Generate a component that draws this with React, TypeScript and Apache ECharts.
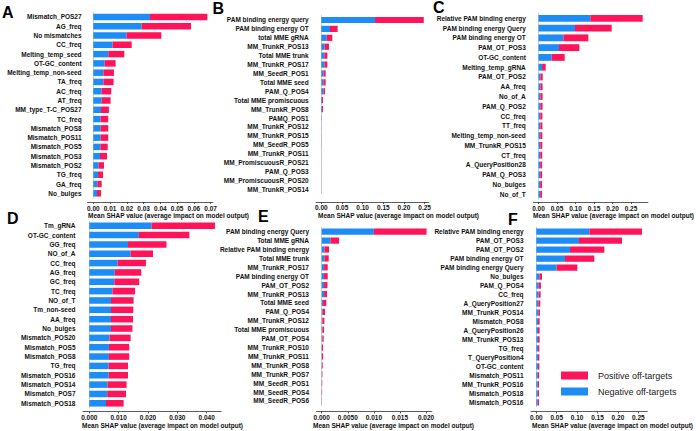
import React, { useEffect, useRef } from "react";
import * as echarts from "echarts";

// ---------- Data ----------
const A_LABELS = ["Mismatch_POS27", "AG_freq", "No mismatches", "CC_freq", "Melting_temp_seed", "OT-GC_content", "Melting_temp_non-seed", "TA_freq", "AC_freq", "AT_freq", "MM_type_T-C_POS27", "TC_freq", "Mismatch_POS8", "Mismatch_POS11", "Mismatch_POS5", "Mismatch_POS3", "Mismatch_POS2", "TG_freq", "GA_freq", "No_bulges"];
const A_NEG = [0.0338, 0.0288, 0.0199, 0.0115, 0.0089, 0.0068, 0.006, 0.006, 0.005, 0.005, 0.0046, 0.0044, 0.0044, 0.0044, 0.0042, 0.004, 0.0032, 0.0028, 0.0024, 0.0022];
const A_POS = [0.0342, 0.0295, 0.0207, 0.0114, 0.0096, 0.0065, 0.0063, 0.0061, 0.0057, 0.0053, 0.0047, 0.0045, 0.0045, 0.0045, 0.0044, 0.0042, 0.0032, 0.003, 0.0026, 0.0024];

const B_LABELS = ["PAM binding energy query", "PAM binding energy OT", "total MME gRNA", "MM_TrunkR_POS13", "Total MME trunk", "MM_TrunkR_POS17", "MM_SeedR_POS1", "Total MME seed", "PAM_Q_POS4", "Total MME promiscuous", "MM_TrunkR_POS8", "PAMQ_POS1", "MM_TrunkR_POS12", "MM_TrunkR_POS15", "MM_SeedR_POS5", "MM_TrunkR_POS11", "MM_PromiscuousR_POS21", "PAM_Q_POS3", "MM_PromiscuousR_POS20", "MM_TrunkR_POS14"];
const B_NEG = [0.13, 0.021, 0.013, 0.008, 0.0073, 0.0073, 0.005, 0.005, 0.005, 0.0016, 0.0016, 0.0003, 0.0002, 0.0002, 0.0002, 0.0001, 0.0001, 0.0001, 0.0001, 0.0001];
const B_POS = [0.118, 0.0185, 0.0136, 0.0105, 0.0072, 0.0072, 0.0055, 0.0055, 0.004, 0.0024, 0.0024, 0.0003, 0.0002, 0.0002, 0.0002, 0.0001, 0.0001, 0.0001, 0.0001, 0.0001];

const C_LABELS = ["Relative PAM binding energy", "PAM binding energy Query", "PAM binding energy OT", "PAM_OT_POS3", "OT-GC_content", "Melting_temp_gRNA", "PAM_OT_POS2", "AA_freq", "No_of_A", "PAM_Q_POS2", "CC_freq", "TT_freq", "Melting_temp_non-seed", "MM_TrunkR_POS15", "CT_freq", "A_QueryPosition28", "PAM_Q_POS3", "No_bulges", "No_of_T"];
const C_NEG = [0.14, 0.0986, 0.0671, 0.0554, 0.0356, 0.0095, 0.005, 0.005, 0.005, 0.005, 0.0048, 0.0048, 0.0047, 0.0047, 0.0046, 0.0045, 0.0045, 0.0044, 0.0044];
const C_POS = [0.1415, 0.0991, 0.0676, 0.055, 0.0351, 0.0099, 0.0063, 0.006, 0.006, 0.006, 0.0057, 0.0057, 0.0056, 0.0055, 0.0054, 0.0053, 0.0052, 0.0052, 0.0051];

const D_LABELS = ["Tm_gRNA", "OT-GC_content", "GG_freq", "NO_of_A", "CC_freq", "AG_freq", "GC_freq", "TC_freq", "NO_of_T", "Tm_non-seed", "AA_freq", "No_bulges", "Mismatch_POS20", "Mismatch_POS5", "Mismatch_POS8", "TG_freq", "Mismatch_POS16", "Mismatch_POS14", "Mismatch_POS7", "Mismatch_POS18"];
const D_NEG = [0.0212, 0.0169, 0.0132, 0.0141, 0.0097, 0.0087, 0.0085, 0.0079, 0.0074, 0.0074, 0.0074, 0.0074, 0.0069, 0.0067, 0.0067, 0.0066, 0.0066, 0.0062, 0.0061, 0.0057];
const D_POS = [0.0216, 0.0172, 0.0131, 0.0076, 0.0096, 0.009, 0.0085, 0.0077, 0.0077, 0.0076, 0.0075, 0.0073, 0.0072, 0.0069, 0.0069, 0.0066, 0.0066, 0.0065, 0.0064, 0.006];

const E_LABELS = ["PAM binding energy Query", "Total MME gRNA", "Relative PAM binding energy", "Total MME trunk", "MM_TrunkR_POS17", "PAM binding energy OT", "PAM_OT_POS2", "MM_TrunkR_POS13", "Total MME seed", "PAM_Q_POS4", "MM_TrunkR_POS12", "Total MME promiscuous", "PAM_OT_POS4", "MM_TrunkR_POS10", "MM_TrunkR_POS11", "MM_TrunkR_POS8", "MM_TrunkR_POS7", "MM_SeedR_POS1", "MM_SeedR_POS4", "MM_SeedR_POS6"];
const E_NEG = [0.01, 0.00166, 0.00051, 0.00051, 0.00045, 0.00045, 0.00045, 0.00045, 0.00026, 0.00019, 0.00013, 0.00013, 0.00013, 0.00006, 0.00006, 0.00006, 0.00003, 0.00003, 0.00003, 0.00003];
const E_POS = [0.0101, 0.00166, 0.00089, 0.00083, 0.0007, 0.0007, 0.00064, 0.00057, 0.00063, 0.00045, 0.00038, 0.00032, 0.00025, 0.0002, 0.0002, 0.00013, 0.0001, 0.00007, 0.00005, 0.00001];

const F_LABELS = ["Relative PAM binding energy", "PAM_OT_POS3", "PAM_OT_POS2", "PAM binding energy OT", "PAM binding energy Query", "No_bulges", "PAM_Q_POS4", "CC_freq", "A_QueryPosition27", "MM_TrunkR_POS14", "Mismatch_POS8", "A_QueryPosition26", "MM_TrunkR_POS13", "TG_freq", "T_QueryPosition4", "OT-GC_content", "Mismatch_POS11", "MM_TrunkR_POS16", "Mismatch_POS18", "Mismatch_POS16"];
const F_NEG = [0.13, 0.1046, 0.0825, 0.0703, 0.0498, 0.0074, 0.0057, 0.0057, 0.0049, 0.0049, 0.0041, 0.0041, 0.0041, 0.0041, 0.0041, 0.0041, 0.0037, 0.0037, 0.0037, 0.0035];
const F_POS = [0.129, 0.1054, 0.0842, 0.0719, 0.0507, 0.0065, 0.0057, 0.0049, 0.0049, 0.0041, 0.0041, 0.0041, 0.0041, 0.0033, 0.0033, 0.0033, 0.0032, 0.003, 0.003, 0.003];

const A_TICKS = [0, 0.01, 0.02, 0.03, 0.04, 0.05, 0.06, 0.07];
const A_TICK_LABELS = ["0.00", "0.01", "0.02", "0.03", "0.04", "0.05", "0.06", "0.07"];
const BCF_TICKS = [0, 0.05, 0.1, 0.15, 0.2, 0.25];
const BCF_TICK_LABELS = ["0.00", "0.05", "0.10", "0.15", "0.20", "0.25"];
const D_TICKS = [0, 0.01, 0.02, 0.03, 0.04];
const D_TICK_LABELS = ["0.000", "0.010", "0.020", "0.030", "0.040"];
const E_TICKS = [0, 0.005, 0.01, 0.015, 0.02];
const E_TICK_LABELS = ["0.000", "0.0050", "0.010", "0.015", "0.020"];

const PANEL_LETTERS = ["A", "B", "C", "D", "E", "F"];
const X_TITLE = "Mean SHAP value (average impact on model output)";
const POS_NAME = "Positive off-targets";
const NEG_NAME = "Negative off-targets";

// ---------- Styling / layout ----------
const BLUE = "#1e8cf5";
const RED = "#ff145a";
const FONT = "'Liberation Sans', Arial, sans-serif";

const PANELS = [
  { labels: A_LABELS, neg: A_NEG, pos: A_POS, ticks: A_TICKS, tickLabels: A_TICK_LABELS },
  { labels: B_LABELS, neg: B_NEG, pos: B_POS, ticks: BCF_TICKS, tickLabels: BCF_TICK_LABELS },
  { labels: C_LABELS, neg: C_NEG, pos: C_POS, ticks: BCF_TICKS, tickLabels: BCF_TICK_LABELS },
  { labels: D_LABELS, neg: D_NEG, pos: D_POS, ticks: D_TICKS, tickLabels: D_TICK_LABELS },
  { labels: E_LABELS, neg: E_NEG, pos: E_POS, ticks: E_TICKS, tickLabels: E_TICK_LABELS },
  { labels: F_LABELS, neg: F_NEG, pos: F_POS, ticks: BCF_TICKS, tickLabels: BCF_TICK_LABELS },
];

const LAYOUT = [
  { left: 87.6, width: 125.4, top: 12.36, height: 185.58, offset: 4.06, xmin: -0.0034, xmax: 0.0714 },
  { left: 316.2, width: 112.7, top: 15.54, height: 178.2, offset: 8.25, xmin: -0.0124, xmax: 0.2604 },
  { left: 533.3, width: 114.6, top: 13.41, height: 185.78, offset: 2.81, xmin: -0.0141, xmax: 0.2956 },
  { left: 83.0, width: 138.2, top: 221.03, height: 186.94, offset: 3.53, xmin: -0.00214, xmax: 0.04494 },
  { left: 316.5, width: 115.3, top: 227.24, height: 178.2, offset: 6.05, xmin: -0.001, xmax: 0.0211 },
  { left: 531.0, width: 116.3, top: 227.21, height: 179.6, offset: 4.7, xmin: -0.013, xmax: 0.272 },
];

const LETTER_POS = [
  [2, 12.5], [212.5, 8], [433, 7.5], [7, 218.3], [258, 216.8], [508, 219.2],
];
const TITLE_POS = [
  [88, 215.7], [318, 215.7], [533, 215.7], [82, 425], [313, 425], [532, 425],
];

export default function App() {
  const ref = useRef<HTMLDivElement>(null);

  useEffect(() => {
    if (!ref.current) return;
    const chart = echarts.init(ref.current, undefined, { renderer: "svg" });

    const grid: any[] = [];
    const xAxis: any[] = [];
    const yAxis: any[] = [];
    const series: any[] = [];

    PANELS.forEach((p, i) => {
      const L = LAYOUT[i];
      grid.push({ left: L.left, top: L.top, width: L.width, height: L.height, containLabel: false });
      xAxis.push({
        type: "value",
        gridIndex: i,
        min: L.xmin,
        max: L.xmax,
        offset: L.offset,
        splitLine: { show: false },
        axisLine: { show: true, onZero: false, lineStyle: { color: "#333", width: 0.8 } },
        axisTick: { show: true, length: 2, customValues: p.ticks, lineStyle: { color: "#333", width: 0.8 } },
        axisLabel: {
          customValues: p.ticks,
          margin: 2.5,
          fontSize: 6.5,
          fontWeight: "bold",
          color: "#111",
          fontFamily: FONT,
          formatter: (v: number) => {
            const idx = p.ticks.findIndex((t) => Math.abs(t - v) < 1e-9);
            return idx >= 0 ? p.tickLabels[idx] : "";
          },
        },
      });
      yAxis.push({
        type: "category",
        gridIndex: i,
        data: p.labels,
        inverse: true,
        axisLine: { show: true, onZero: true, lineStyle: { color: "#c0c0c0", width: 0.8 } },
        axisTick: { show: false },
        axisLabel: {
          interval: 0,
          margin: i === 0 ? 6 : 7.5,
          fontSize: 6.5,
          fontWeight: "bold",
          color: "#111",
          fontFamily: FONT,
        },
      });
      series.push({
        type: "bar",
        name: NEG_NAME,
        xAxisIndex: i,
        yAxisIndex: i,
        stack: "s" + i,
        barWidth: "70%",
        data: p.neg,
        itemStyle: { color: BLUE },
      });
      series.push({
        type: "bar",
        name: POS_NAME,
        xAxisIndex: i,
        yAxisIndex: i,
        stack: "s" + i,
        barWidth: "70%",
        data: p.pos,
        itemStyle: { color: RED },
      });
    });

    const graphic: any[] = [];
    PANEL_LETTERS.forEach((l, i) => {
      graphic.push({
        type: "text",
        x: LETTER_POS[i][0],
        y: LETTER_POS[i][1],
        style: {
          text: l,
          fontSize: 16,
          lineHeight: 12,
          fontWeight: "bold",
          fontFamily: FONT,
          fill: "#000",
          textAlign: "left",
          textVerticalAlign: "middle",
        },
      });
      graphic.push({
        type: "text",
        x: TITLE_POS[i][0],
        y: TITLE_POS[i][1],
        style: {
          text: X_TITLE,
          fontSize: 6.5,
          fontWeight: "bold",
          fontFamily: FONT,
          fill: "#111",
          textAlign: "left",
          textVerticalAlign: "middle",
        },
      });
    });

    chart.setOption({
      animation: false,
      backgroundColor: "#fff",
      grid,
      xAxis,
      yAxis,
      series,
      legend: {
        data: [POS_NAME, NEG_NAME],
        orient: "vertical",
        left: 561,
        top: 371,
        padding: 0,
        itemWidth: 27,
        itemHeight: 8,
        itemGap: 7,
        icon: "rect",
        selectedMode: false,
        textStyle: { fontSize: 9, color: "#222", fontFamily: FONT, lineHeight: 8, padding: [0, 0, 0, 5] },
      },
      graphic,
    });

    return () => chart.dispose();
  }, []);

  return (
    <div
      ref={ref}
      style={{ position: "fixed", left: 0, top: 0, width: 696, height: 431, background: "#fff" }}
    />
  );
}
